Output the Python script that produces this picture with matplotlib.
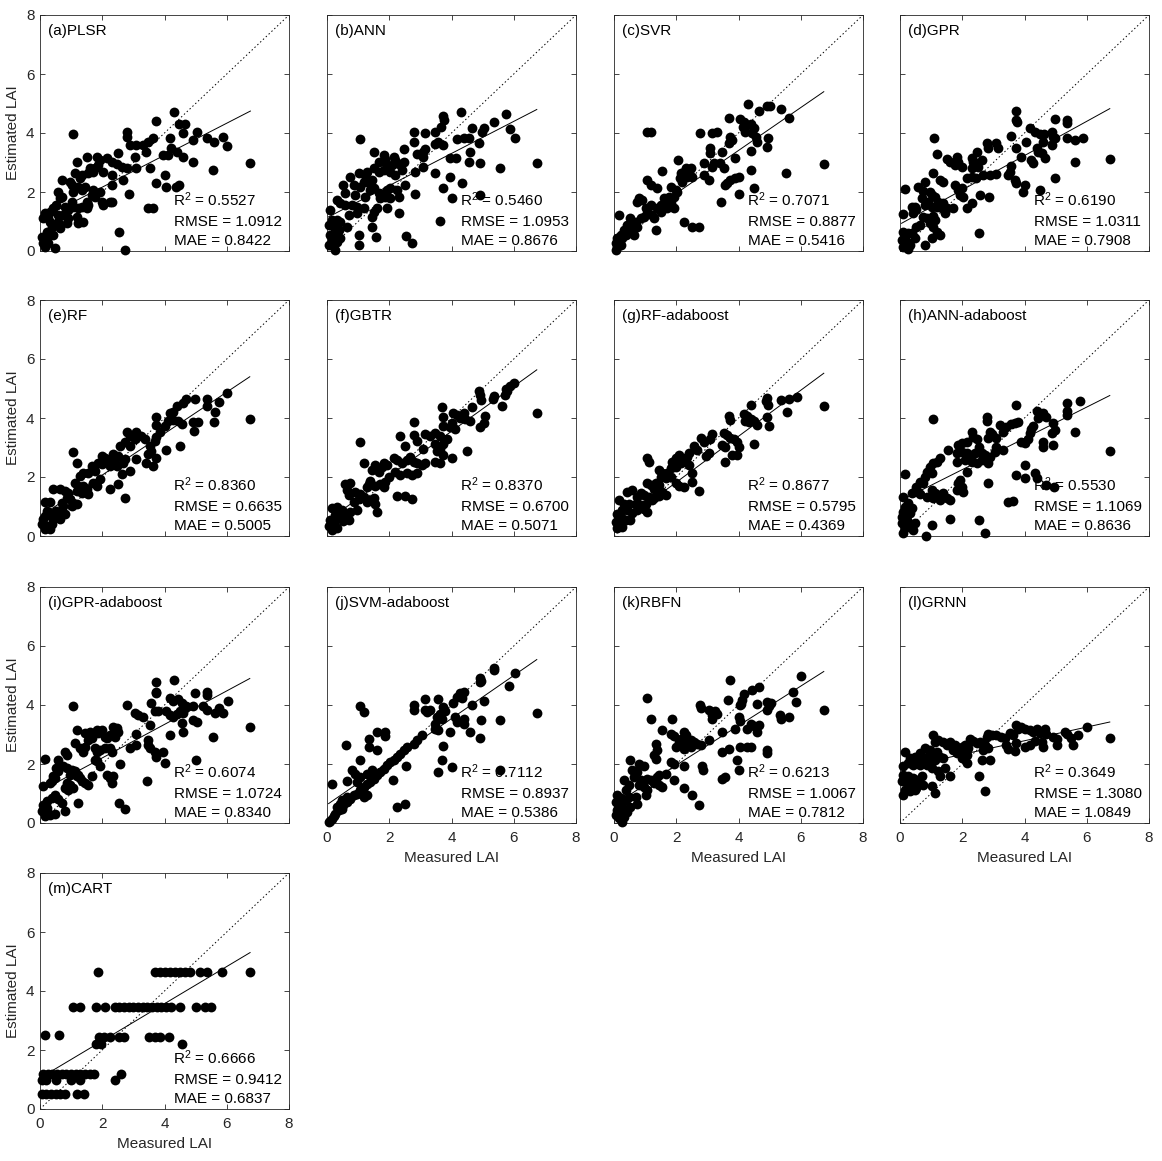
import numpy as np
import matplotlib
matplotlib.use('Agg')
import matplotlib.pyplot as plt

plt.rcParams['font.family'] = ['Liberation Sans', 'DejaVu Sans']
plt.rcParams['mathtext.default'] = 'regular'

# ---------------- data (measured LAI, estimated LAI) per model ----------------
plsr_pts = [(1.07,3.95),(4.3,4.72),(4.46,4.3),(4.67,4.3),(3.74,4.4),(2.78,4.05),(2.78,3.87),(2.89,3.6),(3.1,3.6),(3.3,3.6),(3.48,3.7),(3.64,3.82),(3.42,3.37),(3.05,3.2),(3.1,2.8),(3.53,2.8),(3.72,2.29),(3.96,3.25),(4.12,3.25),(4.0,2.58),(4.04,2.18),(4.36,2.18),(4.47,2.24),(4.17,3.82),(4.22,3.48),(4.39,3.37),(4.58,3.2),(4.6,4.0),(4.92,3.03),(4.92,3.76),(5.03,4.05),(5.35,3.84),(5.6,3.7),(5.88,3.88),(6.02,3.57),(5.56,2.75),(6.76,3.0),(2.51,3.31),(2.48,2.94),(2.62,2.86),(2.78,2.8),(2.67,2.4),(2.86,1.92),(2.55,0.63),(2.73,0.02),(3.48,1.45),(3.64,1.45),(2.3,3.03),(2.3,2.58),(2.3,2.24),(2.3,1.67),(2.14,3.14),(2.03,2.69),(1.82,3.2),(1.93,3.08),(1.87,2.92),(1.76,2.8),(1.71,2.69),(1.5,3.2),(1.18,3.03),(1.6,2.8),(1.55,2.63),(1.34,2.58),(1.12,2.63),(1.28,2.46),(1.23,2.18),(1.34,2.07),(1.44,2.18),(1.02,2.24),(0.96,2.35),(0.7,2.41),(0.59,2.01),(0.7,1.84),(0.64,1.79),(1.07,2.01),(1.02,1.67),(1.05,1.5),(1.23,1.45),(1.34,1.5),(1.5,1.45),(1.18,1.16),(1.23,0.94),(1.39,0.99),(1.66,1.9),(1.76,1.84),(1.93,2.01),(1.98,1.67),(1.71,2.07),(2.03,1.56),(2.25,1.67),(1.55,1.56),(1.5,1.67),(0.8,1.5),(0.91,1.39),(0.75,1.22),(0.53,1.56),(0.43,1.45),(0.32,1.33),(0.16,1.28),(0.11,1.11),(0.27,1.11),(0.32,0.99),(0.48,0.88),(0.37,0.82),(0.59,1.22),(0.59,0.99),(0.64,0.77),(0.21,0.66),(0.32,0.54),(0.05,0.49),(0.16,0.43),(0.11,0.26),(0.27,0.26),(0.16,0.15),(0.48,0.09),(0.43,0.54),(0.91,1.11),(0.86,0.94)]

ann_pts = [(1.07,3.8),(3.74,4.59),(3.76,4.44),(4.3,4.72),(5.75,4.63),(5.35,4.38),(5.03,4.16),(4.97,4.05),(4.65,4.18),(5.88,4.14),(6.04,3.84),(4.39,3.82),(4.55,3.82),(4.17,3.8),(4.6,3.37),(4.87,3.65),(3.96,3.14),(4.15,3.16),(4.55,3.03),(4.92,3.0),(5.56,2.8),(6.74,3.0),(3.48,2.63),(3.96,2.52),(3.72,2.15),(4.01,1.81),(4.35,2.29),(4.92,1.9),(3.62,1.02),(2.78,4.02),(3.16,3.99),(3.48,4.05),(3.66,4.21),(2.78,3.68),(3.08,3.37),(3.16,3.46),(3.48,3.62),(3.58,3.68),(3.72,3.59),(2.89,3.28),(3.1,3.2),(3.08,2.86),(2.48,3.46),(2.83,2.67),(2.51,2.24),(2.83,1.92),(2.55,0.52),(2.73,0.26),(1.5,3.37),(1.82,3.25),(1.87,3.12),(2.14,3.2),(2.19,3.08),(1.93,2.92),(2.09,2.92),(2.3,2.94),(2.48,3.03),(1.66,3.03),(1.5,2.8),(1.66,2.69),(1.82,2.75),(2.03,2.69),(2.19,2.58),(2.41,2.75),(1.28,2.69),(1.23,2.58),(1.02,2.63),(0.75,2.52),(0.53,2.24),(0.86,2.24),(1.07,2.18),(1.18,2.35),(1.28,2.35),(1.44,2.41),(0.59,1.95),(0.91,1.9),(1.23,1.84),(1.39,2.07),(1.5,2.12),(1.93,2.07),(2.03,2.12),(2.25,2.07),(2.3,1.84),(2.03,1.79),(1.87,1.84),(1.66,1.95),(1.71,1.79),(0.32,1.73),(0.43,1.62),(0.59,1.56),(0.8,1.56),(0.96,1.5),(1.18,1.45),(0.7,1.22),(0.96,1.28),(1.5,1.33),(1.6,1.47),(1.44,1.16),(1.93,1.45),(2.3,1.28),(0.11,1.39),(0.16,1.05),(0.32,1.05),(0.43,0.99),(0.05,0.88),(0.21,0.82),(0.37,0.71),(0.64,0.82),(0.11,0.54),(0.27,0.54),(0.43,0.43),(0.16,0.37),(0.05,0.2),(0.32,0.32),(0.27,0.03),(1.02,0.54),(1.44,0.82),(1.58,0.49),(1.02,0.2)]

svr_pts = [(1.07,4.05),(1.18,4.05),(4.3,4.97),(4.92,4.93),(5.0,4.93),(4.65,4.75),(5.35,4.81),(3.69,4.5),(5.62,4.52),(4.04,4.47),(4.17,4.38),(4.28,4.27),(4.15,4.21),(4.39,4.29),(4.49,4.18),(4.22,4.05),(4.44,3.99),(4.55,3.88),(4.6,3.71),(4.94,3.82),(4.92,3.54),(2.76,3.99),(3.16,3.99),(3.32,4.02),(3.74,3.88),(3.8,3.76),(3.69,3.65),(3.1,3.48),(3.08,3.31),(3.48,3.37),(3.9,3.16),(4.39,3.39),(2.05,3.08),(3.21,3.0),(3.42,2.97),(2.89,2.97),(3.53,2.8),(1.55,2.71),(2.3,2.8),(2.25,2.69),(2.46,2.8),(2.14,2.63),(2.12,2.46),(2.19,2.35),(2.35,2.52),(1.07,2.41),(1.18,2.24),(1.39,2.12),(1.82,2.18),(1.98,2.07),(2.03,2.01),(1.93,1.84),(3.05,2.41),(3.64,2.29),(3.58,2.24),(3.72,2.41),(3.9,2.46),(4.01,2.52),(4.39,2.75),(4.49,2.15),(4.01,1.92),(3.45,1.67),(5.54,2.63),(6.74,2.94),(0.8,1.81),(0.91,1.73),(0.75,1.67),(1.6,1.79),(1.66,1.67),(1.76,1.84),(1.5,1.56),(1.93,1.47),(1.18,1.56),(1.02,1.45),(1.07,1.28),(1.23,1.22),(0.96,1.16),(1.28,1.11),(0.86,1.11),(0.7,0.99),(0.53,1.11),(0.43,0.88),(0.59,0.82),(0.75,0.82),(0.16,1.22),(2.25,0.97),(2.51,0.82),(2.73,0.82),(1.34,0.71),(0.32,0.71),(0.21,0.54),(0.11,0.43),(0.16,0.32),(0.05,0.26),(0.11,0.15),(0.21,0.2),(0.05,0.03),(0.27,0.43),(0.37,0.54),(0.48,0.66),(0.64,0.54),(1.39,1.45),(1.5,1.33),(1.82,1.62),(1.71,1.45),(2.41,2.69),(2.51,2.52),(2.89,2.58),(3.16,2.86)]

gpr_pts = [(1.1,3.82),(3.72,4.75),(3.72,4.44),(3.76,4.38),(4.17,4.18),(4.97,4.47),(5.37,4.44),(5.37,4.33),(4.33,4.05),(4.49,3.95),(4.62,3.95),(4.87,4.02),(4.92,3.88),(4.97,3.82),(5.35,3.84),(5.62,3.76),(5.88,3.82),(4.58,3.71),(4.87,3.59),(3.58,3.9),(4.06,3.68),(3.74,3.5),(4.39,3.48),(4.44,3.37),(4.55,3.31),(4.65,3.16),(3.9,3.2),(4.22,3.08),(4.28,2.97),(5.62,3.03),(6.74,3.12),(4.97,2.46),(3.58,2.89),(3.53,2.69),(3.48,2.58),(3.69,2.41),(3.74,2.29),(4.01,2.24),(3.96,2.01),(4.49,2.07),(2.78,3.65),(2.83,3.48),(3.1,3.65),(3.16,3.5),(2.48,3.37),(2.3,3.14),(2.35,3.03),(2.46,2.97),(2.51,2.86),(2.3,2.8),(2.62,3.08),(2.67,2.58),(2.89,2.58),(3.1,2.6),(2.14,2.48),(2.3,2.52),(2.44,2.49),(1.5,3.12),(1.6,3.03),(1.82,3.2),(1.87,3.01),(1.98,2.86),(1.76,2.92),(1.18,3.28),(1.07,2.63),(1.28,2.41),(1.39,2.35),(1.76,2.24),(1.87,2.07),(1.98,2.15),(1.93,1.9),(2.03,1.84),(2.16,1.47),(2.3,1.62),(2.57,1.9),(2.86,1.84),(2.55,0.6),(0.16,2.1),(0.59,2.18),(0.8,2.35),(0.75,2.03),(0.96,2.01),(1.02,1.9),(0.7,1.79),(1.12,1.84),(1.23,1.67),(1.39,1.62),(1.34,1.45),(0.37,1.5),(0.48,1.5),(0.53,1.42),(0.43,1.28),(0.8,1.56),(0.91,1.67),(1.02,1.5),(1.18,1.5),(0.11,1.24),(1.5,1.45),(1.71,1.47),(1.44,1.28),(0.75,1.16),(0.86,1.11),(1.07,1.2),(1.12,1.05),(0.96,0.94),(1.07,0.82),(1.18,0.66),(1.28,0.54),(1.02,0.43),(0.64,0.88),(0.53,0.82),(0.11,0.66),(0.27,0.6),(0.37,0.6),(0.16,0.49),(0.05,0.37),(0.21,0.32),(0.32,0.2),(0.11,0.15),(0.27,0.07),(0.48,0.43),(0.8,0.2)]

rf_pts = [(1.07,2.85),(1.18,2.49),(3.74,4.04),(3.74,3.76),(2.73,1.3),(4.99,4.66),(4.7,4.64),(4.58,4.52),(4.39,4.39),(4.28,4.19),(4.17,4.16),(5.35,4.66),(5.37,4.39),(5.75,4.55),(6.01,4.86),(5.62,4.21),(5.59,3.87),(4.92,3.88),(5.08,3.87),(4.94,3.56),(6.74,3.96),(4.12,3.9),(4.28,3.94),(4.44,3.9),(4.55,3.79),(3.85,3.51),(3.74,3.34),(3.69,3.22),(4.01,3.73),(4.04,2.92),(4.49,3.05),(3.53,3.05),(3.58,2.88),(3.48,2.77),(3.42,2.49),(3.64,2.38),(3.74,2.66),(2.78,3.51),(2.89,3.39),(3.1,3.51),(3.26,3.39),(3.37,3.28),(3.05,3.28),(2.57,3.05),(2.73,3.17),(2.89,3.05),(3.08,2.6),(2.35,2.77),(2.51,2.71),(2.3,2.6),(2.41,2.49),(2.46,2.38),(2.73,2.6),(2.67,2.49),(2.89,2.2),(2.62,2.09),(1.98,2.71),(2.09,2.66),(2.19,2.55),(2.25,2.38),(1.98,2.43),(1.87,2.49),(1.66,2.38),(1.76,2.2),(1.55,2.15),(1.39,2.15),(1.28,2.04),(2.51,1.75),(2.25,1.58),(1.12,1.81),(1.23,1.7),(1.39,1.7),(1.5,1.58),(1.55,1.41),(1.34,1.47),(1.18,1.53),(1.71,1.81),(1.82,1.7),(1.93,1.92),(0.43,1.61),(0.64,1.58),(0.8,1.53),(0.91,1.47),(0.86,1.3),(0.16,1.15),(0.32,1.15),(0.96,1.24),(1.07,1.13),(1.02,1.02),(1.18,1.07),(0.75,1.02),(0.7,1.13),(0.53,0.85),(0.7,0.79),(0.8,0.73),(0.64,0.56),(0.21,0.85),(0.32,0.79),(0.16,0.68),(0.11,0.56),(0.05,0.4),(0.21,0.34),(0.16,0.23),(0.32,0.25),(0.43,0.56),(0.37,0.4)]

gbtr_pts = [(1.07,3.19),(2.78,3.87),(3.69,4.36),(3.72,4.04),(3.72,3.73),(4.87,4.93),(4.92,4.78),(4.94,4.61),(5.35,4.75),(5.33,4.64),(5.75,4.98),(5.88,5.07),(6.0,5.18),(5.78,4.9),(5.72,4.78),(5.62,4.39),(6.74,4.16),(4.65,4.36),(4.39,4.16),(4.06,4.16),(4.17,4.09),(4.28,4.01),(4.44,3.95),(4.6,3.89),(5.08,4.07),(5.03,3.82),(4.92,3.69),(4.01,3.82),(3.96,3.69),(4.12,3.62),(3.16,3.46),(3.32,3.4),(3.48,3.49),(3.64,3.4),(3.85,3.3),(3.74,3.11),(2.8,3.44),(2.89,3.22),(2.35,3.39),(2.51,3.05),(3.08,2.94),(3.48,3.11),(3.53,2.88),(3.64,2.94),(3.74,2.75),(3.48,2.52),(3.64,2.47),(4.01,2.63),(4.49,2.88),(3.16,2.47),(3.05,2.41),(2.89,2.47),(2.14,2.64),(2.25,2.58),(2.41,2.47),(2.57,2.58),(2.67,2.69),(2.78,2.52),(1.82,2.47),(1.93,2.41),(1.76,2.35),(1.55,2.41),(1.44,2.24),(1.66,2.18),(2.19,2.18),(2.35,2.07),(2.57,2.13),(2.73,2.07),(2.89,2.13),(1.18,2.47),(1.39,1.88),(1.34,1.77),(1.28,1.66),(1.98,1.99),(1.87,1.83),(1.82,1.66),(1.71,1.77),(1.55,1.71),(2.25,1.37),(2.51,1.35),(2.73,1.26),(0.59,1.77),(0.75,1.79),(0.64,1.55),(0.7,1.38),(0.91,1.5),(1.07,1.44),(1.18,1.33),(1.02,1.27),(0.86,1.16),(1.28,1.16),(1.39,1.22),(1.5,1.28),(1.55,1.1),(1.6,0.83),(0.16,0.94),(0.32,0.99),(0.48,0.88),(0.75,0.83),(0.96,0.88),(0.27,0.72),(0.43,0.6),(0.11,0.55),(0.21,0.44),(0.05,0.33),(0.16,0.22),(0.32,0.27),(0.53,0.5),(0.59,0.66),(0.7,0.55)]

rfada_pts = [(1.07,2.64),(1.12,2.52),(3.69,4.08),(3.72,3.94),(4.39,4.45),(4.92,4.67),(4.87,4.56),(4.94,4.45),(5.35,4.61),(5.62,4.64),(5.88,4.7),(5.56,4.19),(6.74,4.39),(4.17,4.13),(4.28,4.07),(4.39,3.98),(4.22,3.9),(4.33,3.87),(4.49,3.9),(4.6,3.75),(4.92,4.02),(4.97,3.73),(3.16,3.46),(2.78,3.31),(2.89,3.19),(3.1,3.28),(3.53,3.5),(3.64,3.42),(3.74,3.31),(3.85,3.28),(3.48,3.08),(3.58,3.02),(3.96,3.2),(4.01,3.02),(4.49,3.11),(3.8,2.76),(3.96,2.76),(3.58,2.5),(2.57,3.05),(3.05,2.82),(2.94,2.7),(2.67,2.93),(2.41,2.82),(2.35,2.68),(2.25,2.55),(2.41,2.41),(2.09,2.76),(1.98,2.64),(1.87,2.5),(2.14,2.47),(1.98,2.33),(1.82,2.3),(1.44,2.24),(1.55,2.15),(1.71,2.13),(1.82,2.01),(1.66,1.96),(1.5,2.01),(2.51,2.13),(2.51,1.82),(2.25,1.65),(2.73,1.51),(1.07,1.8),(1.18,1.72),(1.34,1.78),(1.44,1.72),(1.28,1.6),(1.39,1.55),(1.55,1.49),(1.98,1.78),(2.09,1.69),(0.43,1.49),(0.59,1.55),(0.86,1.46),(0.96,1.38),(0.75,1.32),(1.12,1.32),(0.16,1.21),(0.32,1.1),(0.48,1.1),(0.7,1.1),(0.86,1.05),(1.02,1.1),(1.23,1.21),(0.27,0.88),(0.43,0.88),(0.59,0.77),(0.75,0.88),(0.96,0.93),(1.07,0.82),(0.11,0.76),(0.21,0.65),(0.37,0.54),(0.53,0.54),(0.05,0.48),(0.16,0.37),(0.11,0.26),(0.27,0.29),(1.28,1.29),(1.44,1.37),(1.66,1.4)]

annada_pts = [(1.07,3.96),(3.72,4.44),(2.8,4.02),(2.8,3.9),(4.39,4.25),(4.49,4.14),(4.6,4.16),(4.7,4.05),(4.44,3.99),(5.37,4.52),(5.35,4.25),(5.35,4.1),(5.78,4.56),(5.62,3.54),(4.92,3.82),(4.97,3.59),(4.87,3.5),(6.74,2.88),(4.92,3.08),(4.58,3.17),(4.58,3.03),(4.17,3.5),(4.22,3.62),(4.28,3.73),(4.12,3.28),(3.9,3.2),(4.01,3.14),(3.58,3.79),(3.69,3.84),(3.8,3.88),(3.42,3.7),(3.21,3.76),(3.32,3.53),(2.89,3.53),(2.94,3.45),(3.1,3.31),(2.83,3.31),(2.3,3.53),(2.35,3.37),(2.14,3.2),(1.98,3.14),(1.87,3.08),(2.48,3.28),(2.55,3.03),(1.55,2.92),(1.82,2.8),(1.98,2.86),(2.14,2.8),(2.3,2.75),(2.41,2.8),(2.51,2.86),(2.62,2.8),(2.73,2.75),(2.89,2.69),(3.05,2.86),(3.1,3.03),(1.82,2.52),(2.09,2.58),(2.3,2.52),(2.62,2.58),(2.83,2.46),(2.46,2.46),(3.32,2.92),(2.14,2.18),(3.74,2.07),(4.01,2.41),(4.01,1.95),(4.33,2.12),(4.39,1.95),(4.7,1.73),(4.94,1.67),(2.83,1.79),(1.28,2.63),(1.18,2.52),(1.07,2.46),(0.96,2.35),(0.86,2.18),(1.02,2.12),(0.8,2.01),(0.64,1.84),(0.75,1.79),(0.53,1.67),(0.59,1.5),(0.16,2.1),(1.93,1.9),(1.87,1.79),(1.98,1.67),(2.03,1.5),(1.82,1.56),(1.02,1.56),(1.12,1.45),(1.28,1.39),(1.39,1.45),(1.5,1.28),(1.6,1.22),(1.28,1.22),(1.07,1.28),(0.37,1.47),(0.64,1.42),(0.86,1.33),(3.48,1.16),(3.64,1.2),(0.11,1.33),(0.27,1.11),(0.16,0.99),(0.37,0.94),(0.32,0.77),(0.11,0.82),(0.05,0.66),(0.21,0.54),(0.05,0.43),(0.27,0.37),(0.16,0.26),(0.43,0.2),(0.11,0.11),(0.48,0.43),(1.6,0.56),(1.02,0.37),(2.55,0.54),(2.73,0.09),(0.83,0.0)]

gprada_pts = [(1.07,3.95),(3.72,4.77),(3.72,4.45),(3.74,4.4),(4.3,4.85),(2.78,4.0),(4.17,4.25),(4.28,4.14),(4.44,4.21),(4.55,4.06),(4.99,4.4),(5.35,4.45),(5.37,4.34),(5.75,3.89),(6.04,4.14),(4.92,3.95),(5.24,3.95),(5.35,3.83),(5.62,3.72),(5.88,3.72),(4.06,3.78),(4.17,3.66),(4.28,3.61),(4.39,3.69),(4.49,3.8),(4.65,3.89),(4.6,3.72),(4.7,3.95),(4.92,3.49),(5.03,3.44),(4.55,3.38),(4.6,3.1),(3.58,4.06),(3.69,3.78),(3.8,3.78),(3.05,3.72),(3.16,3.66),(3.32,3.61),(3.53,3.33),(3.08,3.01),(4.17,2.99),(5.56,2.91),(6.74,3.24),(3.48,2.82),(3.48,2.65),(3.53,2.54),(3.69,2.42),(3.74,2.25),(3.96,2.42),(4.01,2.03),(5.0,2.12),(2.89,2.54),(3.1,2.65),(2.35,3.27),(2.46,3.21),(2.51,3.08),(2.41,2.9),(1.82,3.16),(1.87,3.04),(1.98,3.16),(2.09,2.93),(2.14,2.88),(2.25,2.99),(1.44,3.04),(1.6,3.1),(1.66,2.88),(1.55,2.82),(1.18,3.16),(1.12,2.71),(1.28,2.54),(1.39,2.42),(1.44,2.59),(1.76,2.54),(1.82,2.42),(1.93,2.48),(2.09,2.54),(2.25,2.54),(2.3,2.42),(1.76,2.14),(1.82,2.09),(1.93,1.92),(2.57,2.0),(2.14,1.63),(2.25,1.52),(2.3,1.35),(2.35,1.58),(0.16,2.18),(0.59,2.14),(0.53,1.86),(0.59,1.75),(0.8,2.42),(0.86,2.31),(0.75,1.92),(0.86,1.86),(1.02,1.8),(1.12,1.75),(1.23,1.63),(0.96,1.63),(0.43,1.58),(0.48,1.52),(0.37,1.41),(0.32,1.35),(1.18,1.58),(1.28,1.52),(1.34,1.41),(1.44,1.35),(1.55,1.3),(1.66,1.58),(0.86,1.35),(0.96,1.3),(1.07,1.18),(0.91,1.13),(0.8,1.18),(0.11,1.27),(3.45,1.44),(1.23,0.68),(2.55,0.68),(2.73,0.47),(0.48,0.96),(0.59,0.82),(0.7,0.68),(0.37,0.85),(0.21,0.73),(0.11,0.62),(0.21,0.51),(0.05,0.39),(0.27,0.34),(0.16,0.23),(0.32,0.28),(0.48,0.3),(0.8,0.42)]

svmada_pts = [(1.05,3.98),(1.18,3.76),(5.35,5.26),(5.35,5.17),(4.9,4.92),(4.94,4.83),(4.92,4.78),(6.04,5.08),(5.86,4.63),(4.28,4.4),(4.39,4.44),(4.33,4.25),(4.17,4.27),(4.06,4.07),(5.03,4.14),(4.65,3.99),(3.16,4.21),(3.58,4.21),(2.78,3.99),(2.78,3.84),(3.16,3.82),(3.32,3.82),(3.21,3.76),(3.74,3.93),(3.8,3.8),(3.64,3.71),(3.53,3.59),(3.69,3.54),(4.12,3.59),(4.39,3.54),(4.17,3.42),(4.39,3.37),(4.94,3.5),(5.56,3.48),(6.74,3.73),(3.48,3.37),(3.48,3.2),(3.58,3.14),(3.96,3.08),(4.58,3.08),(4.9,2.89),(3.72,2.6),(3.69,2.12),(3.58,1.73),(4.01,1.9),(5.56,1.81),(3.05,2.97),(2.89,2.8),(2.78,2.69),(2.57,2.58),(2.46,2.46),(2.35,2.35),(2.25,2.24),(2.14,2.15),(1.6,3.08),(1.87,3.08),(1.87,2.94),(1.34,2.86),(1.34,2.58),(1.6,2.46),(0.62,2.63),(1.07,2.15),(2.03,2.07),(1.93,1.95),(1.82,1.84),(1.71,1.73),(1.6,1.62),(1.5,1.5),(1.39,1.39),(1.28,1.33),(1.18,1.22),(0.8,1.81),(0.91,1.67),(1.07,1.56),(0.64,1.42),(0.96,1.39),(1.44,1.79),(1.5,1.67),(1.28,1.67),(2.12,1.47),(2.55,1.92),(0.16,1.33),(2.25,0.54),(2.51,0.63),(1.07,1.11),(0.96,0.99),(0.86,0.94),(0.75,0.82),(0.64,0.71),(0.53,0.6),(0.48,0.49),(0.37,0.43),(0.27,0.32),(0.21,0.23),(0.16,0.15),(0.11,0.07),(0.05,0.03),(0.48,0.77),(0.43,0.66),(0.64,0.88),(0.32,0.54),(1.18,0.88),(1.28,0.94)]

rbfn_pts = [(1.07,4.25),(3.74,4.84),(6.01,5.0),(5.75,4.44),(5.86,4.1),(4.65,4.61),(4.44,4.5),(4.17,4.36),(4.12,4.18),(4.04,3.99),(4.08,4.04),(3.66,4.16),(4.6,4.02),(4.92,4.1),(5.03,4.07),(4.97,3.96),(4.9,3.84),(5.33,3.65),(5.35,3.54),(5.62,3.59),(6.74,3.84),(2.76,3.99),(2.78,3.9),(3.05,3.82),(3.16,3.65),(3.26,3.8),(3.32,3.71),(3.16,3.54),(1.18,3.54),(1.87,3.54),(4.01,3.59),(4.06,3.46),(4.39,3.37),(4.49,3.28),(4.65,3.31),(4.6,3.08),(4.28,3.2),(3.9,3.2),(3.48,3.08),(1.55,3.14),(1.82,3.03),(1.93,2.94),(2.25,3.08),(2.3,2.97),(2.14,2.86),(2.09,2.75),(1.98,2.58),(2.19,2.63),(2.35,2.69),(2.46,2.8),(2.57,2.75),(2.67,2.69),(2.78,2.63),(2.46,2.58),(2.25,2.52),(3.05,2.8),(1.34,2.69),(1.39,2.46),(1.28,2.29),(1.34,2.18),(3.48,2.41),(3.69,2.52),(4.06,2.58),(4.28,2.58),(4.39,2.58),(4.9,2.46),(4.92,2.37),(3.96,2.15),(4.01,1.81),(2.83,1.92),(2.86,1.81),(3.48,1.5),(3.58,1.56),(0.53,2.12),(0.8,1.99),(0.96,1.92),(1.82,2.07),(1.93,1.99),(2.25,1.92),(0.59,1.79),(0.75,1.73),(0.64,1.56),(0.86,1.45),(0.8,1.28),(0.96,1.22),(1.07,1.5),(1.18,1.45),(1.28,1.36),(1.39,1.56),(1.44,1.28),(1.55,1.22),(1.66,1.67),(1.44,1.62),(1.93,1.45),(2.25,1.2),(2.51,0.94),(2.73,0.6),(0.32,1.47),(0.48,1.28),(0.37,1.11),(1.07,1.11),(1.02,0.94),(0.7,0.88),(0.75,0.66),(0.11,0.94),(0.21,0.86),(0.05,0.71),(0.16,0.6),(0.27,0.54),(0.11,0.43),(0.21,0.32),(0.05,0.26),(0.16,0.18),(0.32,0.2),(0.27,0.03),(0.43,0.37),(0.53,0.54),(0.48,0.88),(0.37,0.77)]

grnn_pts = [(1.07,2.97),(1.12,2.76),(1.23,2.82),(3.74,3.33),(3.8,3.19),(3.9,3.27),(4.01,3.19),(4.17,3.16),(4.28,3.1),(4.39,3.19),(4.49,3.04),(4.65,3.19),(4.7,3.01),(4.92,2.93),(5.03,2.85),(5.3,3.1),(5.35,3.01),(5.51,2.87),(5.72,2.99),(6.01,3.27),(6.74,2.87),(2.78,2.9),(2.83,3.01),(2.94,2.97),(3.1,2.99),(3.26,2.93),(3.37,2.87),(3.53,3.04),(3.64,2.99),(3.42,2.65),(3.48,2.51),(3.69,2.45),(3.74,2.71),(4.01,2.56),(4.17,2.65),(4.33,2.78),(4.55,2.76),(4.6,2.59),(5.03,2.65),(5.56,2.63),(2.25,2.85),(2.35,2.78),(2.46,2.71),(2.57,2.76),(2.73,2.65),(2.67,2.48),(2.83,2.54),(2.89,2.14),(2.62,2.14),(1.39,2.76),(1.5,2.65),(1.6,2.76),(1.76,2.63),(1.87,2.54),(1.98,2.59),(2.09,2.63),(2.19,2.54),(1.71,2.48),(1.82,2.37),(2.03,2.42),(2.14,2.31),(1.98,2.2),(2.14,2.03),(0.8,2.54),(0.96,2.48),(0.64,2.37),(0.86,2.25),(1.02,2.31),(1.18,2.42),(1.28,2.25),(1.39,2.2),(1.12,2.14),(0.96,2.09),(0.75,2.14),(0.16,2.42),(0.32,2.22),(0.48,2.25),(0.59,2.2),(0.27,2.03),(0.43,1.97),(0.11,1.92),(0.64,1.97),(0.86,1.97),(1.02,1.86),(1.23,1.77),(1.28,1.58),(1.6,1.58),(1.44,1.86),(2.55,1.6),(2.73,1.07),(0.11,1.63),(0.27,1.58),(0.43,1.52),(0.59,1.47),(0.7,1.58),(0.05,1.41),(0.21,1.35),(0.37,1.24),(0.53,1.18),(0.75,1.3),(0.16,1.13),(0.32,1.07),(0.48,1.13),(0.11,0.96),(1.02,1.24),(1.12,1.01)]

cart_pts = [(1.86,4.65),(3.7,4.65),(3.86,4.65),(4.0,4.65),(4.18,4.65),(4.34,4.65),(4.5,4.65),(4.66,4.65),(4.82,4.65),(5.14,4.65),(5.37,4.65),(5.85,4.65),(6.75,4.65),
            (1.05,3.45),(1.3,3.45),(1.8,3.45),(2.1,3.45),(2.4,3.45),(2.55,3.45),(2.7,3.45),(2.85,3.45),(3.0,3.45),(3.15,3.45),(3.3,3.45),(3.45,3.45),(3.6,3.45),(3.75,3.45),(3.9,3.45),(4.05,3.45),(4.2,3.45),(4.5,3.45),(5.0,3.45),(5.3,3.45),(5.5,3.45),
            (0.15,2.5),(0.6,2.5),(1.9,2.45),(2.05,2.45),(2.25,2.45),(2.55,2.45),(2.7,2.45),(3.5,2.45),(3.7,2.45),(3.85,2.45),(4.15,2.45),(1.8,2.2),(1.95,2.2),(4.55,2.2),
            (0.1,1.2),(0.25,1.2),(0.4,1.2),(0.55,1.2),(0.7,1.2),(0.85,1.2),(1.0,1.2),(1.15,1.2),(1.3,1.2),(1.45,1.2),(1.6,1.2),(1.75,1.2),(2.6,1.2),
            (0.05,1.0),(0.2,1.0),(0.5,1.0),(1.0,1.0),(1.3,1.0),(2.4,1.0),
            (0.05,0.5),(0.2,0.5),(0.35,0.5),(0.5,0.5),(0.65,0.5),(0.8,0.5),(1.2,0.5),(1.4,0.5)]

model_pts = [plsr_pts, ann_pts, svr_pts, gpr_pts, rf_pts, gbtr_pts, rfada_pts,
             annada_pts, gprada_pts, svmada_pts, rbfn_pts, grnn_pts, cart_pts]
panel_labels = ['(a)PLSR', '(b)ANN', '(c)SVR', '(d)GPR', '(e)RF', '(f)GBTR',
                '(g)RF-adaboost', '(h)ANN-adaboost', '(i)GPR-adaboost',
                '(j)SVM-adaboost', '(k)RBFN', '(l)GRNN', '(m)CART']
r2_vals = [0.5527, 0.5460, 0.7071, 0.6190, 0.8360, 0.8370, 0.8677, 0.5530,
           0.6074, 0.7112, 0.6213, 0.3649, 0.6666]
rmse_vals = [1.0912, 1.0953, 0.8877, 1.0311, 0.6635, 0.6700, 0.5795, 1.1069,
             1.0724, 0.8937, 1.0067, 1.3080, 0.9412]
mae_vals = [0.8422, 0.8676, 0.5416, 0.7908, 0.5005, 0.5071, 0.4369, 0.8636,
            0.8340, 0.5386, 0.7812, 1.0849, 0.6837]
fit_slope = [0.542, 0.544, 0.727, 0.581, 0.703, 0.76, 0.78, 0.53, 0.568, 0.73, 0.67, 0.232, 0.63]
fit_icpt = [1.08, 1.13, 0.50, 0.91, 0.66, 0.51, 0.26, 1.19, 1.07, 0.62, 0.62, 1.86, 1.05]
ticks = [0, 2, 4, 6, 8]
tick_labels = ['0', '2', '4', '6', '8']

# ---------------- layout ----------------
W, H = 1162, 1161
fig = plt.figure(figsize=(W / 100, H / 100), dpi=100)
col_left = [40, 327, 614, 900]
row_top = [15, 300, 587, 873]
aw, ah = 249, 236
ink = '#262626'

for i, pts in enumerate(model_pts):
    r, c = divmod(i, 4)
    ax = fig.add_axes([col_left[c] / W, 1 - (row_top[r] + ah) / H, aw / W, ah / H])
    arr = np.array(pts)
    xm, ye = arr[:, 0], arr[:, 1]
    ax.plot([0, 8], [0, 8], linestyle=(0, (1.5, 2.5)), color='k', lw=0.7, zorder=1)
    xr = np.array([xm.min(), xm.max()])
    ax.plot(xr, fit_slope[i] * xr + fit_icpt[i], '-', color='k', lw=0.7, zorder=2)
    ax.scatter(xm, ye, s=50, c='k', linewidths=0, zorder=4, clip_on=False)
    ax.set_xlim(0, 8)
    ax.set_ylim(0, 8)
    ax.set_xticks(ticks)
    ax.set_yticks(ticks)
    ax.tick_params(direction='in', top=True, right=True, length=3.5, width=0.6,
                   colors=ink, labelsize=11)
    ax.tick_params(axis='x', pad=6)
    ax.tick_params(axis='y', pad=4)
    for sp in ax.spines.values():
        sp.set_linewidth(0.6)
        sp.set_color(ink)
    if c == 0:
        ax.set_yticklabels(tick_labels)
        ax.set_ylabel('Estimated LAI', fontsize=11, color=ink, labelpad=4)
    else:
        ax.set_yticklabels([])
    if i in (9, 10, 11, 12):
        ax.set_xticklabels(tick_labels)
        ax.set_xlabel('Measured LAI', fontsize=11, color=ink, labelpad=4)
    else:
        ax.set_xticklabels([])
    ax.text(0.27, 7.45, panel_labels[i], fontsize=11, va='center', ha='left', zorder=3)
    ax.text(4.28, 1.73, 'R$^{2}$ = %.4f' % r2_vals[i], fontsize=11, va='center', zorder=3)
    ax.text(4.3, 0.98, 'RMSE = %.4f' % rmse_vals[i], fontsize=11, va='center', zorder=3)
    ax.text(4.3, 0.34, 'MAE = %.4f' % mae_vals[i], fontsize=11, va='center', zorder=3)

fig.savefig('out.png', dpi=100)
